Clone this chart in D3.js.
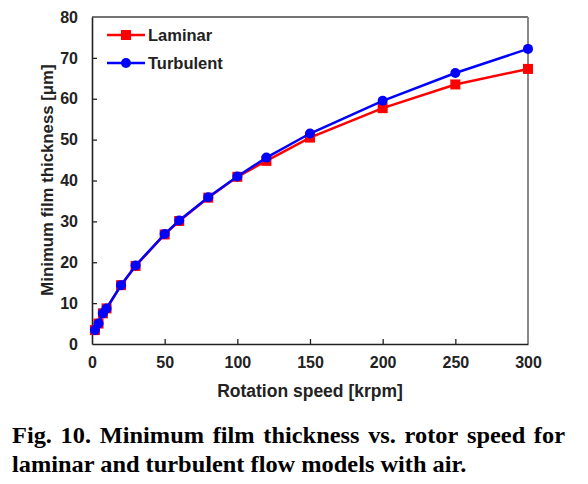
<!DOCTYPE html>
<html><head><meta charset="utf-8">
<script src="https://cdn.jsdelivr.net/npm/d3@7"></script>
<style>
html,body{margin:0;padding:0;background:#fff;}
svg{display:block;}
</style></head>
<body>
<script>
const speeds = [2, 4.5, 7.5, 10, 20, 30, 50, 60, 80, 100, 120, 150, 200, 250, 300];
const laminar = [3.4, 5.0, 7.5, 8.7, 14.4, 19.1, 26.8, 30.1, 35.8, 40.9, 44.8, 50.5, 57.7, 63.5, 67.3];
const turbulent = [3.4, 5.0, 7.5, 8.7, 14.4, 19.2, 26.9, 30.2, 35.9, 41.0, 45.6, 51.5, 59.5, 66.3, 72.2];
const xTicks = [0, 50, 100, 150, 200, 250, 300];
const yTicks = [0, 10, 20, 30, 40, 50, 60, 70, 80];
const seriesNames = ["Laminar", "Turbulent"];
const seriesColors = ["#ff0000", "#0000ff"];
const captionLines = ["Fig. 10. Minimum film thickness vs. rotor speed for",
                      "laminar and turbulent flow models with air."];

const W = 588, H = 484;
const svg = d3.select("body").append("svg").attr("width", W).attr("height", H);
const x = d3.scaleLinear().domain([0, 300]).range([92, 528]);
const y = d3.scaleLinear().domain([0, 80]).range([344, 17]);

const sans = "'Liberation Sans', Arial, sans-serif";

// frame (top & right)
svg.append("line").attr("x1", x(0)).attr("x2", x(300)).attr("y1", y(80)).attr("y2", y(80))
  .attr("stroke", "#444").attr("stroke-width", 1.5);
svg.append("line").attr("x1", x(300)).attr("x2", x(300)).attr("y1", y(80)).attr("y2", y(0))
  .attr("stroke", "#888").attr("stroke-width", 2);

// axes
const xAxis = svg.append("g").attr("transform", `translate(0,${y(0)})`)
  .call(d3.axisBottom(x).tickValues(xTicks).tickSizeInner(-5).tickSizeOuter(0).tickPadding(13));
const yAxis = svg.append("g").attr("transform", `translate(${x(0)},0)`)
  .call(d3.axisLeft(y).tickValues(yTicks).tickSizeInner(-5).tickSizeOuter(0).tickPadding(14));
[xAxis, yAxis].forEach(g => {
  g.select(".domain").attr("stroke", "#222").attr("stroke-width", 1.6);
  g.selectAll(".tick line").attr("stroke", "#222").attr("stroke-width", 1.3);
  g.selectAll(".tick text").attr("font-family", sans).attr("font-weight", "bold")
    .attr("font-size", 16).attr("fill", "#222");
});
xAxis.selectAll(".tick line").filter(d => d === 0 || d === 300).remove();
yAxis.selectAll(".tick line").filter(d => d === 0 || d === 80).remove();

// axis titles
svg.append("text").attr("x", 310).attr("y", 397).attr("text-anchor", "middle")
  .attr("font-family", sans).attr("font-weight", "bold").attr("font-size", 17.5).attr("fill", "#222")
  .text("Rotation speed [krpm]");
svg.append("text").attr("transform", "translate(53,180) rotate(-90)").attr("text-anchor", "middle")
  .attr("font-family", sans).attr("font-weight", "bold").attr("font-size", 16.8).attr("fill", "#222")
  .text("Minimum film thickness [μm]");

// series
const line = d3.line().x(d => x(d[0])).y(d => y(d[1]));
const allSeries = [laminar, turbulent];
allSeries.forEach((vals, i) => {
  const pts = speeds.map((s, j) => [s, vals[j]]);
  svg.append("path").datum(pts).attr("d", line).attr("fill", "none")
    .attr("stroke", seriesColors[i]).attr("stroke-width", 2.5);
  if (i === 0) {
    svg.selectAll(null).data(pts).enter().append("rect")
      .attr("x", d => x(d[0]) - 5).attr("y", d => y(d[1]) - 5)
      .attr("width", 10).attr("height", 10).attr("fill", seriesColors[i]);
  } else {
    svg.selectAll(null).data(pts).enter().append("circle")
      .attr("cx", d => x(d[0])).attr("cy", d => y(d[1])).attr("r", 5)
      .attr("fill", seriesColors[i]);
  }
});

// legend
seriesNames.forEach((name, i) => {
  const ly = 35 + i * 28;
  svg.append("line").attr("x1", 107).attr("x2", 145).attr("y1", ly).attr("y2", ly)
    .attr("stroke", seriesColors[i]).attr("stroke-width", 2.5);
  if (i === 0) svg.append("rect").attr("x", 121).attr("y", ly - 5).attr("width", 10).attr("height", 10).attr("fill", seriesColors[i]);
  else svg.append("circle").attr("cx", 126).attr("cy", ly).attr("r", 5).attr("fill", seriesColors[i]);
  svg.append("text").attr("x", 148).attr("y", ly + 6).attr("font-family", sans)
    .attr("font-weight", "bold").attr("font-size", 16.5).attr("fill", "#222").text(name);
});

// caption (Times-like, slightly wide)
const serif = "'Liberation Serif', 'Times New Roman', serif";
const sx = 1.06, cx0 = 12;
const cap = svg.append("g").attr("transform", `translate(${cx0},0) scale(${sx},1)`);
function justifyLine(str, y0, width) {
  const words = str.split(" ");
  const nodes = words.map(w => cap.append("text").attr("y", y0).attr("font-family", serif)
    .attr("font-weight", "bold").attr("font-size", 23).attr("fill", "#000").text(w));
  const widths = nodes.map(n => n.node().getComputedTextLength());
  const gap = (width - d3.sum(widths)) / (words.length - 1);
  let cx = 0;
  nodes.forEach((n, i) => { n.attr("x", cx); cx += widths[i] + gap; });
}
justifyLine(captionLines[0], 443, (565 - cx0) / sx);
cap.append("text").attr("x", 0).attr("y", 472).attr("font-family", serif)
  .attr("font-weight", "bold").attr("font-size", 23).attr("fill", "#000").text(captionLines[1]);
</script>
</body></html>
